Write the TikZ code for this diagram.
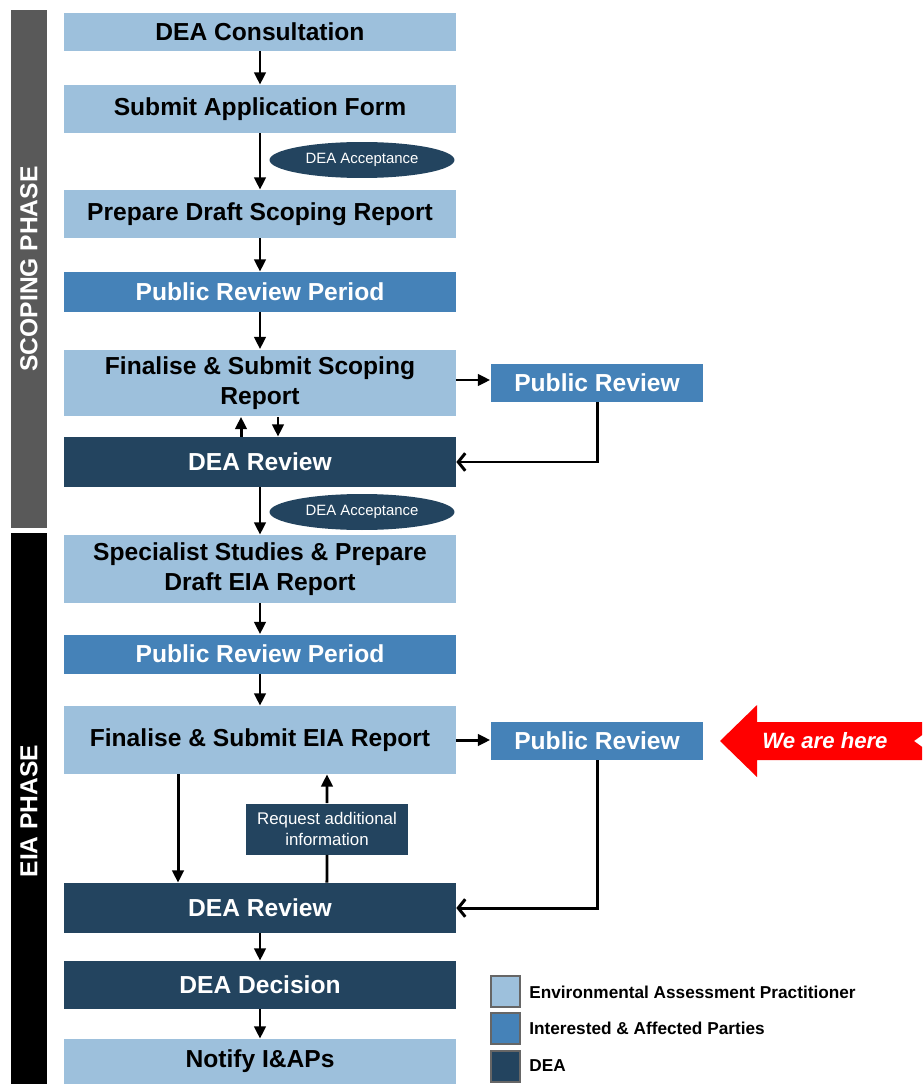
\documentclass[tikz,border=0pt]{standalone}
\usepackage{fontspec}
\setmainfont{Liberation Sans}
\usetikzlibrary{shapes.geometric,arrows.meta}

\definecolor{eapblue}{RGB}{157,192,220}
\definecolor{iapblue}{RGB}{69,130,184}
\definecolor{deablue}{RGB}{35,68,95}
\definecolor{phasegray}{RGB}{89,89,89}
\definecolor{herered}{RGB}{255,0,0}

\tikzset{
	stage/.style={rectangle, inner sep=0pt, minimum width=7.84cm, align=center,
		font=\bfseries\fontsize{14}{17}\selectfont},
	eap/.style={stage, fill=eapblue, text=black},
	iap/.style={stage, fill=iapblue, text=white},
	dea/.style={stage, fill=deablue, text=white},
	accept/.style={ellipse, fill=deablue, text=white, inner sep=0pt,
		minimum width=3.7cm, minimum height=0.72cm, font=\fontsize{8.5}{10}\selectfont},
	phase/.style={rectangle, inner sep=0pt, minimum width=0.72cm, text=white,
		font=\bfseries\fontsize{14}{17}\selectfont},
	key/.style={rectangle, draw=black!60, line width=0.7pt, minimum width=0.58cm, minimum height=0.62cm},
	keytext/.style={anchor=west, inner sep=0pt, font=\bfseries\fontsize{9.8}{11}\selectfont},
	flow/.style={line width=1.7pt, -{Triangle[length=7pt,width=6.5pt]}},
	back/.style={line width=1.7pt, -{Straight Barb[length=4pt,width=10pt]}}
}

\begin{document}
\begin{tikzpicture}[x=0.02cm, y=-0.02cm]
	\useasboundingbox (0,0) rectangle (922,1084);
	\clip (0,0) rectangle (922,1084);

	% phase bars
	\node[phase, fill=phasegray, minimum height=10.36cm] (scoping) at (29,269) {};
	\node[rotate=90, text=white, font=\bfseries\fontsize{14}{17}\selectfont] at (scoping) {SCOPING PHASE};
	\node[phase, fill=black, minimum height=11.1cm] (eia) at (29,810) {};
	\node[rotate=90, text=white, font=\bfseries\fontsize{14}{17}\selectfont] at (29,811) {EIA PHASE};

	% scoping phase
	\node[eap, minimum height=0.76cm] (consult) at (260,32) {DEA Consultation};
	\node[eap, minimum height=0.96cm] (apply) at (260,109) {Submit Application Form};
	\node[eap, minimum height=0.96cm] (draftscop) at (260,214) {Prepare Draft Scoping Report};
	\node[iap, minimum height=0.80cm] (prscop) at (260,292) {Public Review Period};
	\node[eap, minimum height=1.34cm] (finscop) at (260,383) {Finalise \& Submit Scoping\\Report};
	\node[dea, minimum height=1.00cm] (reviewscop) at (260,462) {DEA Review};
	\node[iap, minimum width=4.26cm, minimum height=0.76cm] (pubscop) at (597,383) {Public Review};
	\node[accept] (acc1) at (362,160) {DEA Acceptance};
	\node[accept] (acc2) at (362,512) {DEA Acceptance};

	% eia phase
	\node[eap, minimum height=1.36cm] (studies) at (260,569) {Specialist Studies \& Prepare\\Draft EIA Report};
	\node[iap, minimum height=0.78cm] (preia) at (260,654) {Public Review Period};
	\node[eap, minimum height=1.36cm] (fineia) at (260,740) {Finalise \& Submit EIA Report};
	\node[iap, minimum width=4.26cm, minimum height=0.76cm] (pubeia) at (597,741) {Public Review};
	\node[rectangle, fill=deablue, text=white, inner sep=0pt, minimum width=3.24cm, minimum height=1.02cm,
		align=center, font=\fontsize{9.6}{12}\selectfont] (request) at (327,829) {Request additional\\information};
	\node[dea, minimum height=1.00cm] (revieweia) at (260,908) {DEA Review};
	\node[dea, minimum height=0.96cm] (decision) at (260,985) {DEA Decision};
	\node[eap, minimum height=0.90cm] (notify) at (260,1061.5) {Notify I\&APs};

	% red marker
	\fill[herered] (720,741) -- (757,705) -- (757,722) -- (940,722) -- (914,741) -- (940,760)
		-- (757,760) -- (757,777) -- cycle;
	\node[text=white, font=\bfseries\itshape\fontsize{12.6}{15}\selectfont] (here) at (825,741) {We are here};

	% legend
	\node[key, fill=eapblue] (key1) at (505.5,991.5) {};
	\node[key, fill=iapblue] (key2) at (505.5,1028.5) {};
	\node[key, fill=deablue] (key3) at (505.5,1066.5) {};
	\node[keytext] at (529,992) {Environmental Assessment Practitioner};
	\node[keytext] at (529,1028) {Interested \& Affected Parties};
	\node[keytext] at (529,1066) {DEA};

	% connectors
	\draw[flow] (consult) -- (apply);
	\draw[flow] (apply) -- (draftscop);
	\draw[flow] (draftscop) -- (prscop);
	\draw[flow] (prscop) -- (finscop);
	\draw[flow] ([yshift=0.06cm]finscop.east) -- ([yshift=0.06cm]finscop.east -| pubscop.west);
	\draw[back] (pubscop.south) |- (reviewscop.east);
	\draw[flow] ([xshift=-0.38cm]reviewscop.north) -- ([xshift=-0.38cm]finscop.south);
	\draw[flow] ([xshift=0.36cm]finscop.south) -- ([xshift=0.36cm]reviewscop.north);
	\draw[flow] (reviewscop) -- (studies);
	\draw[flow] (studies) -- (preia);
	\draw[flow] (preia) -- (fineia);
	\draw[flow] (fineia.east) -- (fineia.east -| pubeia.west);
	\draw[back] (pubeia.south) |- (revieweia.east);
	\draw[flow] ([xshift=-1.64cm]fineia.south) -- ([xshift=-1.64cm]revieweia.north);
	\draw[line width=1.7pt] ([xshift=1.34cm]revieweia.north) -- (request.south);
	\draw[flow] (request.north) -- ([xshift=1.34cm]fineia.south);
	\draw[flow] (revieweia) -- (decision);
	\draw[flow] (decision) -- (notify);
\end{tikzpicture}
\end{document}
